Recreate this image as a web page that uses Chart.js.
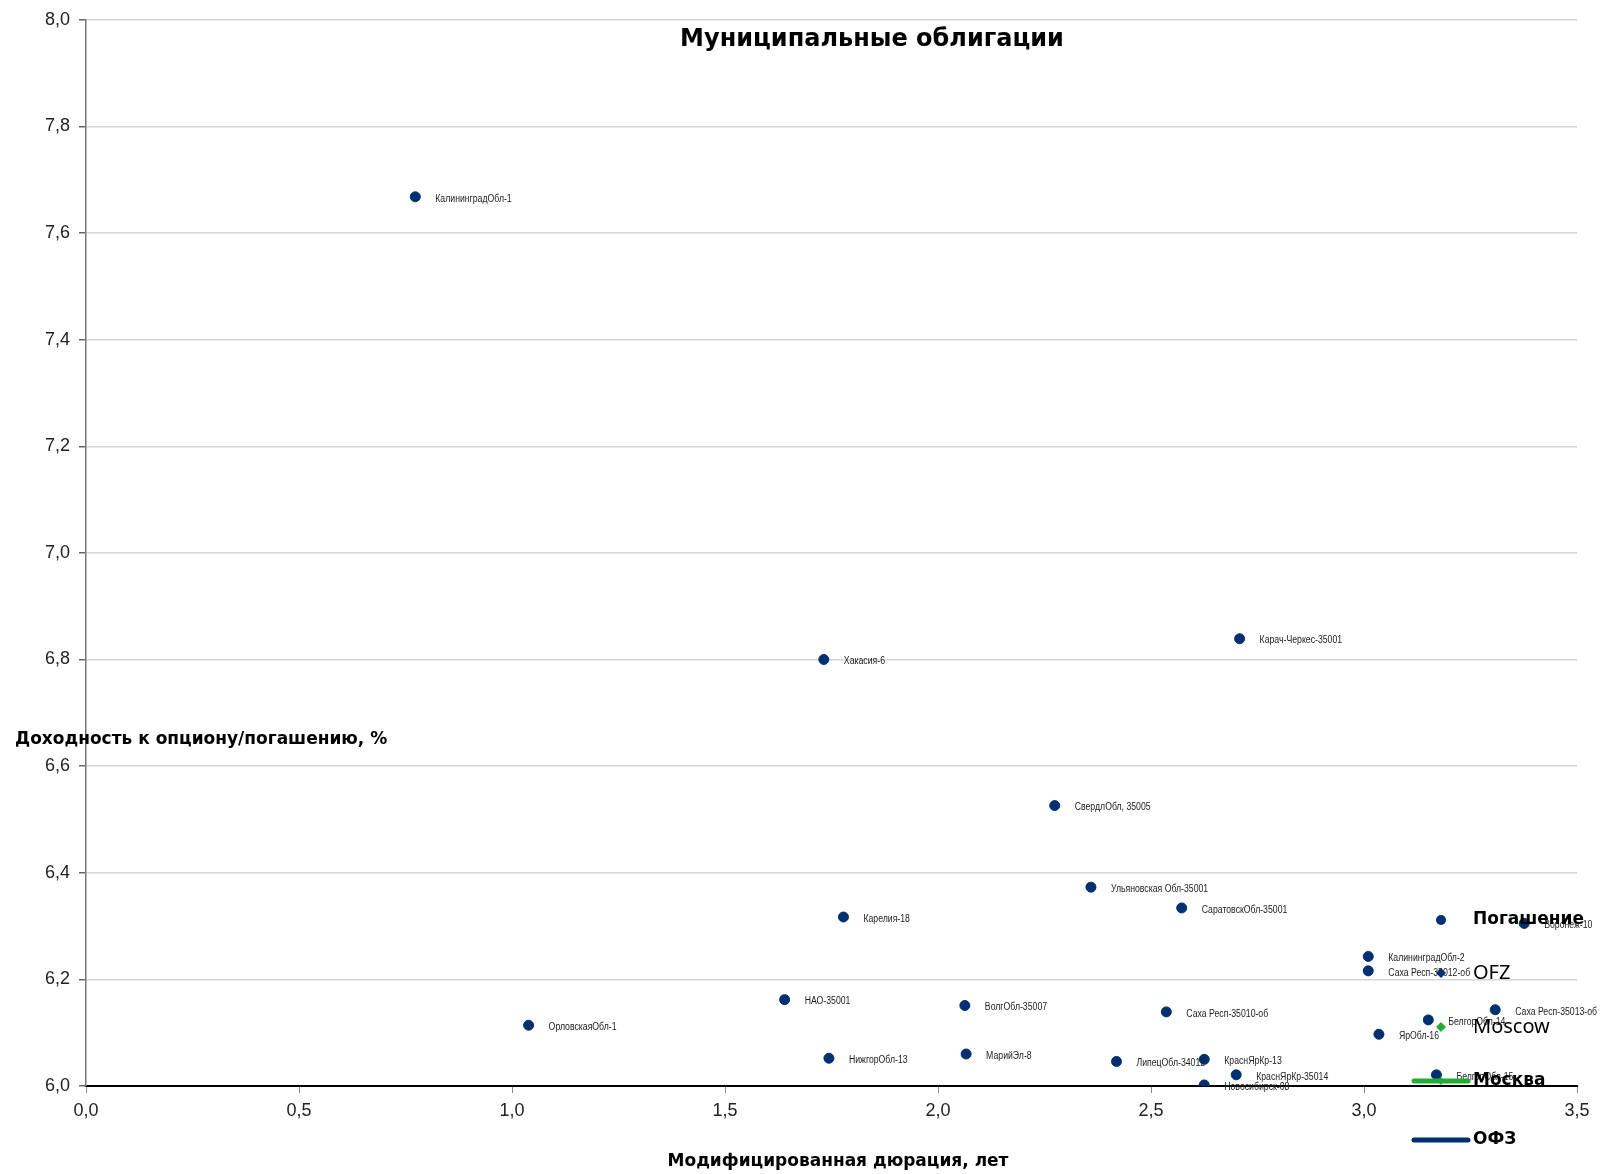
<!DOCTYPE html>
<html>
<head>
<meta charset="utf-8">
<script src="https://cdn.jsdelivr.net/npm/chart.js@4.4.1/dist/chart.umd.min.js"></script>
<style>
html,body{margin:0;padding:0;background:#fff;}
#wrap{width:1613px;height:1174px;position:relative;}
</style>
</head>
<body>
<div id="wrap"><canvas id="c"></canvas></div>
<script>
// ---- data ----
const bondNames = [
  "КалининградОбл-1","Хакасия-6","Карач-Черкес-35001","СвердлОбл, 35005",
  "Ульяновская Обл-35001","Карелия-18","СаратовскОбл-35001","КалининградОбл-2",
  "Саха Респ-35012-об","НАО-35001","ВолгОбл-35007","Саха Респ-35010-об",
  "Саха Респ-35013-об","БелгорОбл-14","ОрловскаяОбл-1","ЯрОбл-16",
  "НижгорОбл-13","МарийЭл-8","ЛипецОбл-34012","КраснЯрКр-13",
  "КраснЯрКр-35014","Новосибирск-08","БелгорОбл-15","Воронеж-10"
];
const bondDuration = [
  0.773,1.732,2.708,2.274,
  2.359,1.778,2.572,3.010,
  3.010,1.640,2.063,2.536,
  3.308,3.151,1.039,3.035,
  1.744,2.066,2.419,2.625,
  2.700,2.625,3.170,3.376
];
const bondYield = [
  7.668,6.800,6.839,6.526,
  6.373,6.317,6.334,6.243,
  6.216,6.162,6.151,6.139,
  6.143,6.124,6.114,6.097,
  6.052,6.060,6.046,6.050,
  6.021,6.002,6.021,6.305
];
const ofzDuration = [];
const ofzYield = [];
const moscowDuration = [];
const moscowYield = [];
const seriesNames = ["Погашение","OFZ","Moscow","Москва","ОФЗ"];
const chartTitle = "Муниципальные облигации";
const xTitle = "Модифицированная дюрация, лет";
const yTitle = "Доходность к опциону/погашению, %";

const NAVY = "#00306f";
const GREEN = "#22ab35";

function pts(xs, ys){ return xs.map((x,i)=>({x:x, y:ys[i]})); }

const fmt = v => Number(v).toFixed(1).replace('.', ',');

const overlay = {
  id: 'overlay',
  afterDatasetsDraw(chart){
    const ctx = chart.ctx;
    ctx.save();
    // data labels (condensed)
    const meta = chart.getDatasetMeta(0);
    ctx.fillStyle = "#222";
    ctx.font = "10px 'Liberation Sans', Arial, sans-serif";
    ctx.textBaseline = "middle";
    ctx.textAlign = "left";
    meta.data.forEach((el,i)=>{
      ctx.save();
      ctx.translate(el.x + 20, el.y + 2);
      ctx.scale(0.87, 1);
      ctx.fillText(bondNames[i], 0, 0);
      ctx.restore();
    });
    // chart title
    ctx.fillStyle = "#000";
    ctx.font = "bold 24px 'DejaVu Sans', Verdana, sans-serif";
    ctx.textAlign = "center";
    ctx.fillText(chartTitle, 872, 40);
    // y axis title (horizontal)
    ctx.font = "bold 17px 'DejaVu Sans', Verdana, sans-serif";
    ctx.textAlign = "left";
    ctx.fillText(yTitle, 15, 740);
    // x axis title
    ctx.textAlign = "center";
    ctx.fillText(xTitle, 838, 1162);
    // legend
    const lx = 1441, tx = 1473;
    const ly = [920, 973, 1027, 1081, 1140];
    ctx.fillStyle = NAVY;
    ctx.beginPath(); ctx.arc(lx, ly[0], 5, 0, Math.PI*2); ctx.fill();
    function diamond(x,y,r,col){ ctx.fillStyle=col; ctx.beginPath(); ctx.moveTo(x,y-r); ctx.lineTo(x+r,y); ctx.lineTo(x,y+r); ctx.lineTo(x-r,y); ctx.closePath(); ctx.fill(); }
    diamond(lx, ly[1], 5, NAVY);
    diamond(lx, ly[2], 5, GREEN);
    ctx.strokeStyle = GREEN; ctx.lineWidth = 5; ctx.lineCap = "round";
    ctx.beginPath(); ctx.moveTo(1414, ly[3]); ctx.lineTo(1468, ly[3]); ctx.stroke();
    diamond(lx, ly[3], 4, GREEN);
    ctx.strokeStyle = NAVY;
    ctx.beginPath(); ctx.moveTo(1414, ly[4]); ctx.lineTo(1468, ly[4]); ctx.stroke();
    ctx.fillStyle = "#000";
    ctx.textAlign = "left";
    ctx.font = "bold 17px 'DejaVu Sans', Verdana, sans-serif";
    ctx.fillText(seriesNames[0], tx, ly[0]);
    ctx.font = "20px 'Noto Sans', 'Open Sans', sans-serif";
    ctx.fillText(seriesNames[1], tx, ly[1]);
    ctx.fillText(seriesNames[2], tx, ly[2]);
    ctx.font = "bold 17px 'DejaVu Sans', Verdana, sans-serif";
    ctx.fillText(seriesNames[3], tx, ly[3]);
    ctx.fillText(seriesNames[4], tx, ly[4]);
    ctx.restore();
  }
};

new Chart(document.getElementById('c'), {
  type: 'scatter',
  data: {
    datasets: [
      { label: seriesNames[0], data: pts(bondDuration, bondYield), backgroundColor: NAVY, borderColor: NAVY, pointRadius: 5, pointHoverRadius: 5 },
      { label: seriesNames[1], data: pts(ofzDuration, ofzYield), backgroundColor: NAVY, borderColor: NAVY, pointStyle: 'rectRot', pointRadius: 5 },
      { label: seriesNames[2], data: pts(moscowDuration, moscowYield), backgroundColor: GREEN, borderColor: GREEN, pointStyle: 'rectRot', pointRadius: 5 },
      { label: seriesNames[3], type: 'line', data: pts(moscowDuration, moscowYield), borderColor: GREEN, borderWidth: 5, pointRadius: 0 },
      { label: seriesNames[4], type: 'line', data: pts(ofzDuration, ofzYield), borderColor: NAVY, borderWidth: 5, pointRadius: 0 }
    ]
  },
  options: {
    responsive: true,
    maintainAspectRatio: false,
    animation: false,
    devicePixelRatio: 1,
    layout: { padding: { top: 14, right: 36, left: 0, bottom: 0 } },
    plugins: { legend: { display: false }, tooltip: { enabled: false }, title: { display: false } },
    scales: {
      x: {
        type: 'linear', min: 0, max: 3.5,
        afterFit(s){ s.height = 88; },
        ticks: { stepSize: 0.5, callback: v => fmt(v), color: "#222", padding: 7,
                 font: { family: "'Liberation Sans', Arial, sans-serif", size: 18 } },
        grid: { drawOnChartArea: false, drawTicks: true, tickLength: 7, color: "#888", tickWidth: 1 },
        border: { display: true, color: "#000", width: 2 }
      },
      y: {
        type: 'linear', min: 6, max: 8,
        afterFit(s){ s.width = 86; },
        ticks: { stepSize: 0.2, callback: v => fmt(v), color: "#222", padding: 9,
                 font: { family: "'Liberation Sans', Arial, sans-serif", size: 18 } },
        grid: { color: "#d6d6d6", lineWidth: 1.5, drawTicks: true, tickLength: 7, tickColor: "#666" },
        border: { display: true, color: "#777", width: 1.5 }
      }
    }
  },
  plugins: [overlay]
});
</script>
</body>
</html>
